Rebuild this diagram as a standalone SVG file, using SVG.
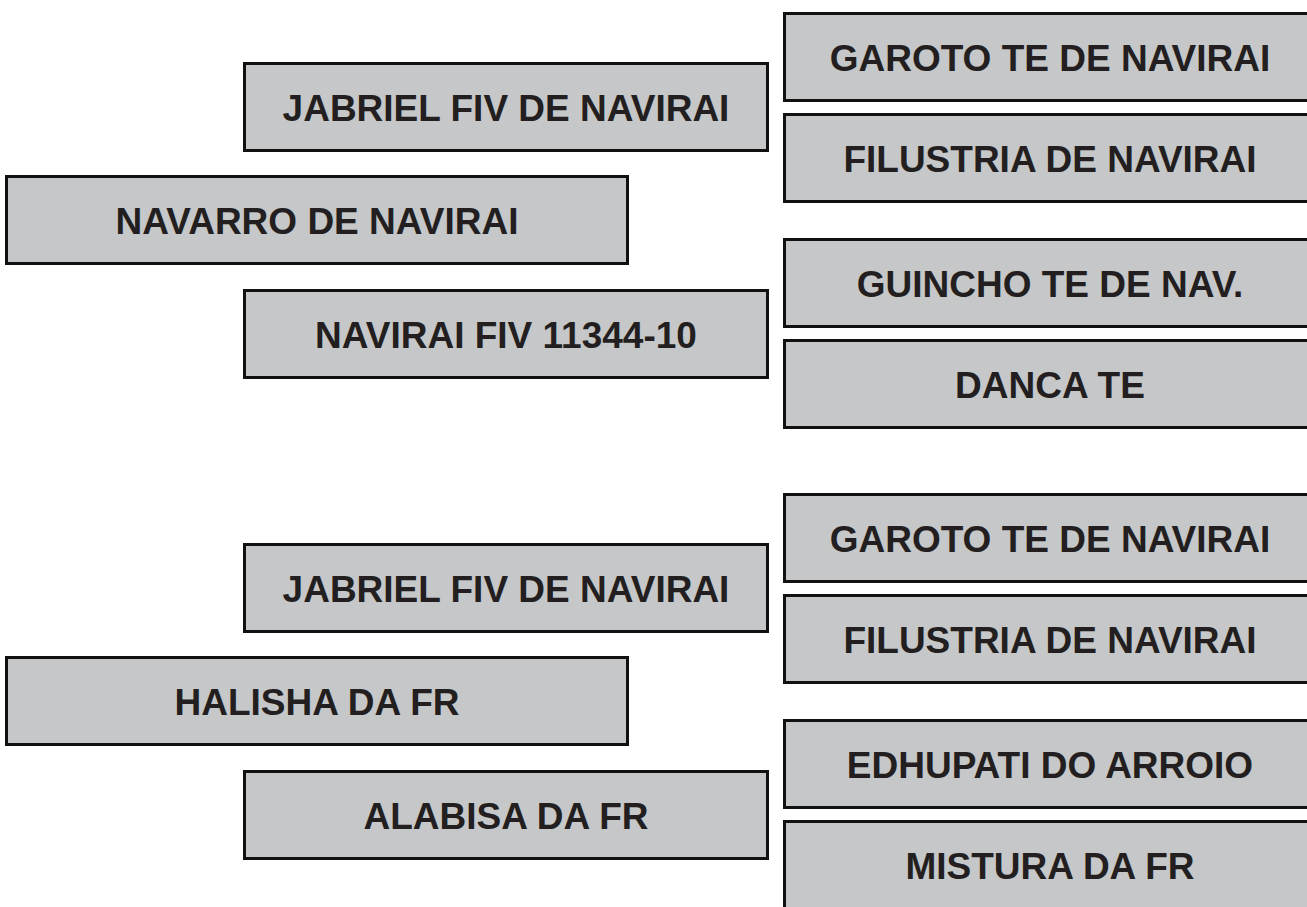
<svg xmlns="http://www.w3.org/2000/svg" width="1307" height="907" viewBox="0 0 1307 907">
<style>
.box{fill:#c6c7c9;stroke:#111;stroke-width:3}
.lbl{font-family:"Liberation Sans",Arial,sans-serif;font-weight:bold;font-size:37px;fill:#231f20;text-anchor:middle}
</style>
<rect width="1307" height="907" fill="#fff"/>
<g id="connectors"></g>
<g id="n-garoto1"><rect class="box" x="784.5" y="13.5" width="531" height="87"/><text class="lbl" x="1050" y="71">GAROTO TE DE NAVIRAI</text></g>
<g id="n-jabriel1"><rect class="box" x="244.5" y="63.5" width="523" height="87"/><text class="lbl" x="506" y="121">JABRIEL FIV DE NAVIRAI</text></g>
<g id="n-filustria1"><rect class="box" x="784.5" y="114.5" width="531" height="87"/><text class="lbl" x="1050" y="172">FILUSTRIA DE NAVIRAI</text></g>
<g id="n-navarro"><rect class="box" x="6.5" y="176.5" width="621" height="87"/><text class="lbl" x="317" y="234">NAVARRO DE NAVIRAI</text></g>
<g id="n-guincho"><rect class="box" x="784.5" y="239.5" width="531" height="87"/><text class="lbl" x="1050" y="297">GUINCHO TE DE NAV.</text></g>
<g id="n-navirai"><rect class="box" x="244.5" y="290.5" width="523" height="87"/><text class="lbl" x="506" y="348">NAVIRAI FIV 11344-10</text></g>
<g id="n-danca"><rect class="box" x="784.5" y="340.5" width="531" height="87"/><text class="lbl" x="1050" y="398">DANCA TE</text></g>
<g id="n-garoto2"><rect class="box" x="784.5" y="494.5" width="531" height="87"/><text class="lbl" x="1050" y="552">GAROTO TE DE NAVIRAI</text></g>
<g id="n-jabriel2"><rect class="box" x="244.5" y="544.5" width="523" height="87"/><text class="lbl" x="506" y="602">JABRIEL FIV DE NAVIRAI</text></g>
<g id="n-filustria2"><rect class="box" x="784.5" y="595.5" width="531" height="87"/><text class="lbl" x="1050" y="653">FILUSTRIA DE NAVIRAI</text></g>
<g id="n-halisha"><rect class="box" x="6.5" y="657.5" width="621" height="87"/><text class="lbl" x="317" y="715">HALISHA DA FR</text></g>
<g id="n-edhupati"><rect class="box" x="784.5" y="720.5" width="531" height="87"/><text class="lbl" x="1050" y="778">EDHUPATI DO ARROIO</text></g>
<g id="n-alabisa"><rect class="box" x="244.5" y="771.5" width="523" height="87"/><text class="lbl" x="506" y="829">ALABISA DA FR</text></g>
<g id="n-mistura"><rect class="box" x="784.5" y="821.5" width="531" height="87"/><text class="lbl" x="1050" y="879">MISTURA DA FR</text></g>
</svg>
